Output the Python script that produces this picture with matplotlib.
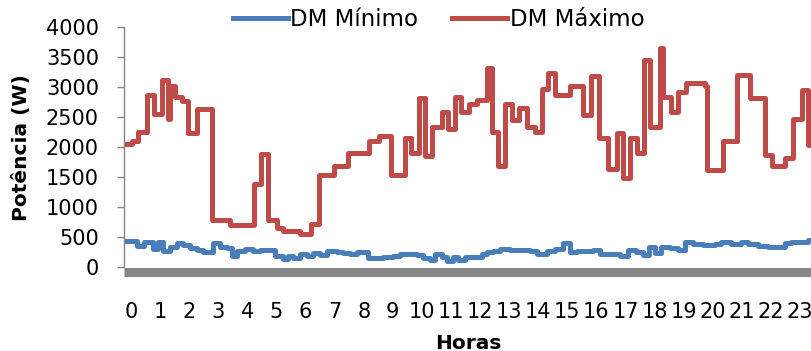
import matplotlib.pyplot as plt
import numpy as np

# hora de cada mudança de patamar e potência (W) a partir dela
horas_max = [-0.24, 0.02, 0.25, 0.54, 0.80, 1.05, 1.26, 1.34, 1.51, 1.74, 1.97,
             2.26, 2.80, 3.40, 4.24, 4.46, 4.72, 5.01, 5.24, 5.81, 6.19, 6.46,
             6.99, 7.45, 8.18, 8.54, 8.94, 9.42, 9.63, 9.91, 10.11, 10.34,
             10.68, 10.91, 11.14, 11.34, 11.62, 11.88, 12.25, 12.42, 12.63,
             12.86, 13.09, 13.35, 13.60, 13.89, 14.12, 14.35, 14.58, 15.09,
             15.55, 15.81, 16.09, 16.39, 16.70, 16.92, 17.15, 17.38, 17.63,
             17.84, 18.18, 18.30, 18.57, 18.82, 19.08, 19.73, 19.81, 20.34,
             20.82, 21.28, 21.79, 22.02, 22.48, 22.77, 23.06, 23.28, 23.41]
dm_max = [2050, 2100, 2260, 2880, 2550, 3120, 2470, 3020, 2840, 2770, 2230,
          2640, 790, 700, 1390, 1880, 790, 650, 600, 560, 720, 1540,
          1680, 1900, 2100, 2190, 1540, 2150, 1910, 2820, 1850, 2340,
          2590, 2300, 2840, 2590, 2730, 2790, 3330, 2260, 1690,
          2730, 2460, 2650, 2340, 2260, 2980, 3240, 2870, 3020,
          2530, 3190, 2150, 1640, 2230, 1480, 2150, 1900, 3460,
          2330, 3650, 2840, 2590, 2930, 3080, 3020, 1620, 2100,
          3210, 2820, 1870, 1680, 1820, 2470, 2960, 2040, 2040]

horas_min = [-0.24, 0.20, 0.45, 0.75, 0.94, 1.11, 1.34, 1.57, 1.80, 2.03, 2.26,
             2.49, 2.69, 2.81, 3.06, 3.29, 3.46, 3.66, 3.92, 4.21, 4.43, 4.95,
             5.24, 5.41, 5.58, 5.81, 6.04, 6.27, 6.50, 6.73, 7.07, 7.30, 7.53,
             7.76, 8.16, 8.67, 9.02, 9.25, 9.59, 9.82, 10.05, 10.28, 10.45,
             10.68, 10.85, 11.08, 11.25, 11.48, 11.77, 12.05, 12.23, 12.46,
             12.68, 13.03, 13.37, 13.72, 13.95, 14.29, 14.58, 14.86, 15.09,
             15.32, 15.88, 16.11, 16.51, 16.80, 17.09, 17.37, 17.60, 17.80,
             18.02, 18.21, 18.52, 18.80, 19.03, 19.32, 19.66, 20.06, 20.29,
             20.64, 20.98, 21.21, 21.55, 21.90, 22.24, 22.47, 22.70, 22.99,
             23.27, 23.41]
dm_min = [430, 360, 417, 306, 417, 272, 339, 400, 372, 328, 289,
          261, 250, 400, 344, 317, 194, 272, 306, 272, 289, 194,
          139, 194, 150, 217, 194, 233, 206, 272, 261, 233, 217,
          261, 161, 172, 194, 217, 228, 206, 150, 122, 217,
          167, 106, 178, 122, 172, 178, 217, 250, 272,
          306, 294, 283, 278, 222, 272, 306, 400, 261,
          278, 294, 217, 228, 194, 283, 261, 206, 344,
          233, 344, 317, 289, 417, 383, 372, 383, 417,
          383, 428, 383, 361, 344, 339, 400, 428, 417,
          456, 456]

rotulos_x = [str(h) for h in range(24)]
ticks_y = np.arange(0, 4001, 500)

azul = '#4A7EBB'
vermelho = '#BE4B48'
cinza = '#868686'

fig = plt.figure(figsize=(8.12, 3.51), dpi=100)
ax = fig.add_axes([0.1527, 0.2385, 0.8473, 0.6837])

l1, = ax.plot(horas_min, dm_min, drawstyle='steps-post', color=azul, lw=3.6,
              solid_joinstyle='round')
l2, = ax.plot(horas_max, dm_max, drawstyle='steps-post', color=vermelho, lw=3.6,
              solid_joinstyle='round')

ax.set_xlim(-0.24, 23.41)
ax.set_ylim(0, 4000)
ax.set_yticks(ticks_y)
ax.set_xticks(range(24))
ax.set_xticklabels(rotulos_x)

for s in ['top', 'right']:
    ax.spines[s].set_visible(False)
ax.spines['left'].set_color(cinza)
ax.spines['left'].set_linewidth(1.0)
ax.spines['bottom'].set_color('#878787')
ax.spines['bottom'].set_linewidth(6.5)
ax.spines['bottom'].set_position(('outward', 3.3))
ax.spines['bottom'].set_capstyle('butt')

ax.tick_params(axis='y', direction='out', length=5, width=1, color=cinza,
               pad=13, labelsize=15)
ax.tick_params(axis='x', length=0, pad=22, labelsize=15)

ax.set_xlabel('Horas', fontsize=14.5, fontweight='bold', labelpad=8)
ax.set_ylabel('Potência (W)', fontsize=14.5, fontweight='bold')
ax.yaxis.set_label_coords(-0.135, 0.5)

fig.legend([l1, l2], ['DM Mínimo', 'DM Máximo'], loc='center',
           bbox_to_anchor=(0.54, 0.945), ncol=2, frameon=False, fontsize=16.5,
           handlelength=2.4, handletextpad=0.1, columnspacing=1.5,
           borderpad=0, borderaxespad=0)

fig.savefig('out.png', dpi=100)
